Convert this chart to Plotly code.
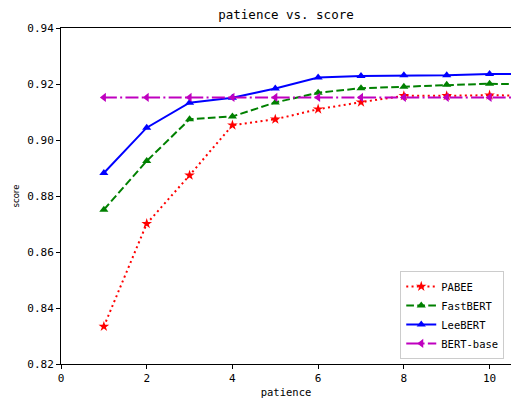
import plotly.graph_objects as go

patience = [1, 2, 3, 4, 5, 6, 7, 8, 9, 10, 11]
pabee = [0.8334, 0.8701, 0.8874, 0.9053, 0.9074, 0.9110, 0.9135, 0.9158, 0.9158, 0.9160, 0.9158]
fastbert = [0.8751, 0.8925, 0.9074, 0.9084, 0.9134, 0.9169, 0.9185, 0.9190, 0.9197, 0.9201, 0.9198]
leebert = [0.8882, 0.9044, 0.9133, 0.9151, 0.9184, 0.9223, 0.9229, 0.9231, 0.9231, 0.9236, 0.9236]
bert_base = [0.9152] * 11

x_ticks = [0, 2, 4, 6, 8, 10]
y_ticks = [0.82, 0.84, 0.86, 0.88, 0.90, 0.92, 0.94]

MONO = "DejaVu Sans Mono"

fig = go.Figure()
fig.add_trace(go.Scatter(x=patience, y=pabee, name="PABEE", mode="lines+markers",
                         line=dict(color="#ff0000", width=2, dash="2px,3.3px"),
                         marker=dict(symbol="star", size=8, color="#ff0000")))
fig.add_trace(go.Scatter(x=patience, y=fastbert, name="FastBERT", mode="lines+markers",
                         line=dict(color="#008000", width=2, dash="7.7px,3.3px"),
                         marker=dict(symbol="triangle-up", size=8, color="#008000")))
fig.add_trace(go.Scatter(x=patience, y=leebert, name="LeeBERT", mode="lines+markers",
                         line=dict(color="#0000ff", width=2),
                         marker=dict(symbol="triangle-up", size=8, color="#0000ff")))
fig.add_trace(go.Scatter(x=patience, y=bert_base, name="BERT-base", mode="lines+markers",
                         line=dict(color="#bf00bf", width=2, dash="13px,3.3px,2px,3.3px"),
                         marker=dict(symbol="triangle-left", size=8, color="#bf00bf")))

fig.update_layout(
    width=511, height=403,
    margin=dict(l=61, r=0, t=28, b=39, autoexpand=False),
    paper_bgcolor="white", plot_bgcolor="white",
    font=dict(family=MONO, size=11, color="black"),
    title=dict(text="patience vs. score", x=0.5, xref="paper", xanchor="center",
               y=1 - 15 / 403, yref="container", yanchor="middle",
               font=dict(family=MONO, size=12.5, color="black")),
    showlegend=True,
    legend=dict(x=0.985, y=0.015, xanchor="right", yanchor="bottom",
                bgcolor="rgba(255,255,255,0.8)", bordercolor="#cccccc", borderwidth=1,
                font=dict(family=MONO, size=10.5), tracegroupgap=0,
                itemwidth=30),
)
fig.update_xaxes(range=[0, 10.5], tickvals=x_ticks, ticktext=[str(v) for v in x_ticks],
                 automargin=False,
                 showgrid=False, zeroline=False, showline=True, linecolor="black", linewidth=1,
                 mirror=True, ticks="outside", ticklen=4, tickcolor="black",
                 tickfont=dict(family=MONO, size=11),
                 title=dict(text="patience", standoff=4, font=dict(family=MONO, size=10.5)))
fig.update_yaxes(range=[0.82, 0.94], tickvals=y_ticks, ticktext=["%.2f" % v for v in y_ticks],
                 automargin=False,
                 showgrid=False, zeroline=False, showline=True, linecolor="black", linewidth=1,
                 mirror=False, ticks="outside", ticklen=4, tickcolor="black",
                 tickfont=dict(family=MONO, size=11),
                 title=dict(text="score", standoff=6, font=dict(family="DejaVu Sans", size=8.5, color="black")))

fig.write_html("out.html", config={"displayModeBar": False},
               post_script="document.body.style.margin='0';document.body.style.overflow='hidden';")
